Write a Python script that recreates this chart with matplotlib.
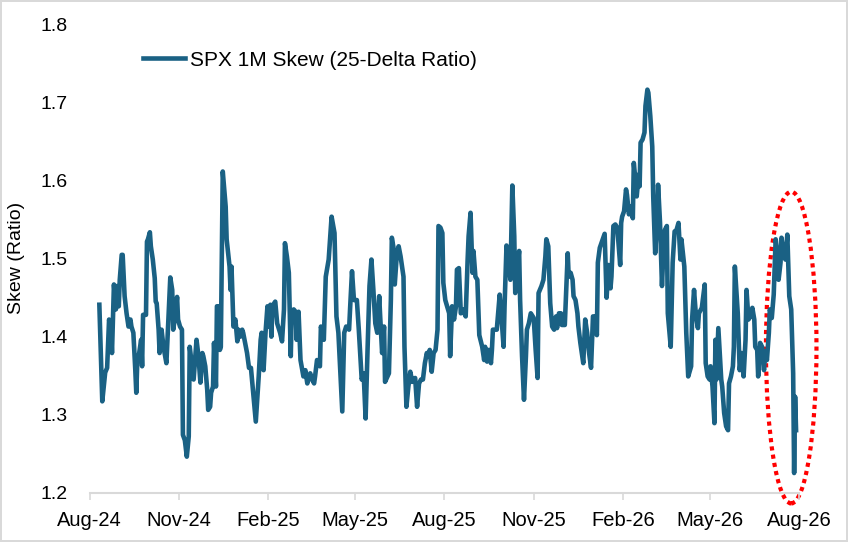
import pandas as pd
import matplotlib
matplotlib.use("Agg")
import matplotlib.pyplot as plt
import matplotlib.dates as mdates
from matplotlib.patches import Ellipse

# data: days after 1 Aug 2024 and the skew ratio
start_date = "2024-08-01"
days_from_start = [
    10, 13, 16, 18, 20, 22, 23, 25, 27, 28, 30, 31, 33, 34, 35, 36, 38, 40, 42, 43,
    45, 47, 48, 49, 51, 53, 54, 55, 58, 59, 60, 62, 63, 65, 67, 68, 69, 71, 72, 74,
    76, 79, 81, 83, 85, 86, 88, 90, 91, 93, 95, 96, 98, 100, 102, 103, 105, 107, 109, 110,
    112, 114, 116, 117, 119, 121, 122, 124, 125, 127, 128, 130, 131, 133, 134, 135, 137, 140, 141, 144,
    145, 146, 148, 150, 152, 153, 155, 157, 158, 162, 164, 166, 169, 171, 174, 176, 177, 179, 181, 183,
    184, 186, 187, 188, 191, 193, 196, 198, 200, 201, 203, 205, 207, 208, 210, 212, 213, 215, 217, 220,
    222, 224, 227, 229, 231, 232, 234, 237, 238, 241, 243, 246, 249, 252, 254, 256, 260, 262, 264, 267,
    268, 270, 272, 275, 277, 280, 282, 284, 286, 288, 290, 292, 294, 296, 298, 299, 301, 303, 304, 308,
    310, 311, 313, 314, 316, 318, 320, 323, 324, 326, 328, 330, 332, 335, 337, 339, 341, 343, 345, 347,
    348, 350, 352, 354, 356, 358, 359, 361, 363, 364, 366, 370, 371, 373, 375, 377, 378, 380, 382, 384,
    387, 389, 390, 392, 394, 395, 397, 399, 401, 404, 406, 407, 409, 411, 413, 414, 415, 419, 422, 424,
    426, 427, 429, 431, 433, 435, 437, 438, 440, 442, 443, 445, 447, 449, 450, 452, 454, 456, 457, 459,
    461, 462, 465, 467, 469, 470, 472, 474, 476, 478, 480, 481, 483, 485, 486, 489, 492, 493, 495, 497,
    498, 500, 502, 503, 505, 508, 510, 512, 514, 516, 518, 520, 522, 523, 525, 528, 530, 532, 534, 536,
    537, 539, 541, 543, 546, 547, 548, 550, 552, 553, 555, 557, 559, 560, 561, 563, 565, 566, 567, 569,
    571, 572, 574, 575, 577, 579, 580, 582, 584, 585, 587, 589, 590, 592, 594, 595, 598, 600, 602, 604,
    606, 608, 609, 612, 614, 616, 619, 620, 622, 624, 626, 627, 630, 633, 634, 636, 638, 639, 641, 643,
    644, 645, 647, 650, 651, 653, 655, 657, 658, 660, 662, 663, 664, 667, 669, 671, 673, 675, 676, 678,
    680, 682, 684, 685, 687, 688, 690, 692, 694, 695, 697, 699, 700, 702, 704, 706, 707, 709, 711, 712,
    714, 716, 718, 720, 722, 724, 725, 726, 727,
]
skew = [
    1.441, 1.317, 1.354, 1.360, 1.422, 1.409, 1.379, 1.467, 1.435, 1.465, 1.439, 1.473, 1.505, 1.505, 1.477, 1.452, 1.430, 1.413, 1.422, 1.413,
    1.405, 1.357, 1.328, 1.366, 1.379, 1.396, 1.362, 1.428, 1.428, 1.522, 1.525, 1.534, 1.516, 1.499, 1.475, 1.445, 1.443, 1.409, 1.379, 1.409,
    1.387, 1.366, 1.422, 1.476, 1.460, 1.409, 1.426, 1.451, 1.422, 1.413, 1.409, 1.274, 1.267, 1.246, 1.272, 1.387, 1.366, 1.345, 1.379, 1.396,
    1.375, 1.341, 1.379, 1.375, 1.362, 1.332, 1.306, 1.310, 1.328, 1.336, 1.392, 1.336, 1.439, 1.439, 1.383, 1.387, 1.612, 1.567, 1.525, 1.490,
    1.460, 1.490, 1.413, 1.422, 1.394, 1.409, 1.400, 1.409, 1.405, 1.379, 1.360, 1.360, 1.319, 1.291, 1.349, 1.396, 1.405, 1.357, 1.405, 1.439,
    1.413, 1.441, 1.400, 1.439, 1.445, 1.417, 1.405, 1.394, 1.435, 1.520, 1.503, 1.482, 1.375, 1.432, 1.435, 1.432, 1.396, 1.432, 1.370, 1.349,
    1.357, 1.340, 1.353, 1.345, 1.340, 1.349, 1.370, 1.362, 1.413, 1.396, 1.477, 1.499, 1.554, 1.533, 1.426, 1.405, 1.304, 1.405, 1.413, 1.409,
    1.435, 1.484, 1.447, 1.447, 1.409, 1.345, 1.353, 1.295, 1.383, 1.465, 1.499, 1.460, 1.417, 1.405, 1.452, 1.426, 1.379, 1.413, 1.342, 1.353,
    1.447, 1.527, 1.512, 1.467, 1.503, 1.516, 1.503, 1.477, 1.387, 1.310, 1.336, 1.355, 1.342, 1.347, 1.310, 1.340, 1.345, 1.345, 1.366, 1.379,
    1.375, 1.383, 1.355, 1.379, 1.383, 1.409, 1.542, 1.540, 1.533, 1.469, 1.447, 1.430, 1.375, 1.439, 1.422, 1.439, 1.486, 1.488, 1.430, 1.435,
    1.426, 1.499, 1.529, 1.559, 1.482, 1.510, 1.477, 1.473, 1.402, 1.387, 1.370, 1.387, 1.368, 1.383, 1.366, 1.383, 1.409, 1.409, 1.454, 1.422,
    1.387, 1.439, 1.517, 1.501, 1.473, 1.594, 1.529, 1.456, 1.486, 1.510, 1.447, 1.375, 1.319, 1.375, 1.409, 1.417, 1.430, 1.426, 1.424, 1.383,
    1.347, 1.456, 1.465, 1.473, 1.503, 1.525, 1.516, 1.443, 1.413, 1.409, 1.426, 1.411, 1.430, 1.430, 1.415, 1.415, 1.507, 1.477, 1.482, 1.473,
    1.452, 1.447, 1.430, 1.413, 1.392, 1.366, 1.422, 1.405, 1.379, 1.360, 1.426, 1.426, 1.402, 1.495, 1.514, 1.525, 1.532, 1.450, 1.492, 1.462,
    1.477, 1.542, 1.544, 1.540, 1.492, 1.546, 1.554, 1.561, 1.589, 1.582, 1.557, 1.567, 1.552, 1.623, 1.610, 1.580, 1.608, 1.593, 1.649, 1.653,
    1.662, 1.696, 1.717, 1.713, 1.683, 1.644, 1.580, 1.507, 1.550, 1.595, 1.546, 1.465, 1.495, 1.537, 1.542, 1.430, 1.387, 1.495, 1.535, 1.537,
    1.546, 1.499, 1.525, 1.490, 1.405, 1.349, 1.362, 1.422, 1.460, 1.426, 1.411, 1.430, 1.437, 1.467, 1.366, 1.349, 1.345, 1.362, 1.336, 1.289,
    1.396, 1.345, 1.411, 1.345, 1.336, 1.302, 1.285, 1.280, 1.340, 1.349, 1.362, 1.387, 1.490, 1.430, 1.357, 1.379, 1.349, 1.396, 1.460, 1.422,
    1.426, 1.437, 1.422, 1.387, 1.383, 1.349, 1.392, 1.387, 1.357, 1.381, 1.370, 1.405, 1.435, 1.424, 1.454, 1.525, 1.516, 1.473, 1.495, 1.527,
    1.507, 1.499, 1.531, 1.452, 1.435, 1.353, 1.225, 1.323, 1.280,
]

tick_dates = ["2024-08-01", "2024-11-01", "2025-02-01", "2025-05-01", "2025-08-01",
              "2025-11-01", "2026-02-01", "2026-05-01", "2026-08-01"]
tick_labels = ["Aug-24", "Nov-24", "Feb-25", "May-25", "Aug-25",
               "Nov-25", "Feb-26", "May-26", "Aug-26"]
y_ticks = [1.2, 1.3, 1.4, 1.5, 1.6, 1.7, 1.8]
series_name = "SPX 1M Skew (25-Delta Ratio)"

dates = pd.Timestamp(start_date) + pd.to_timedelta(days_from_start, unit="D")

plt.rcParams['font.family'] = ['Liberation Sans', 'DejaVu Sans']

fig = plt.figure(figsize=(8.48, 5.42), dpi=100, edgecolor='#d9d9d9', linewidth=1.5)
ax = fig.add_axes([0.1057, 0.0913, 0.8365, 0.8626])

ax.plot(dates, skew, color='#1a6184', lw=3.3, solid_joinstyle='round', label=series_name)

ax.set_xlim(pd.Timestamp(tick_dates[0]), pd.Timestamp(tick_dates[-1]))
ax.set_ylim(y_ticks[0], y_ticks[-1])
ax.set_xticks(pd.to_datetime(tick_dates))
ax.set_xticklabels(tick_labels)
ax.set_yticks(y_ticks)
ax.set_yticklabels([f"{t:.1f}" for t in y_ticks])

for s in ['top', 'right', 'left']:
    ax.spines[s].set_visible(False)
ax.spines['bottom'].set_color('#d9d9d9')
ax.spines['bottom'].set_linewidth(1.5)
ax.tick_params(axis='y', length=0, pad=16, labelsize=14)
ax.tick_params(axis='x', length=5, width=1.2, color='#d9d9d9', pad=8, labelsize=14.5)

fig.text(17 / 848, 1 - 258 / 542, 'Skew (Ratio)', rotation=90,
         ha='center', va='center', fontsize=14)

ax.legend(loc='center left', bbox_to_anchor=(0.0753, 0.925), frameon=False,
          fontsize=15, handlelength=2.0, handletextpad=0.25,
          borderpad=0, borderaxespad=0)

# red dotted ring around the latest drop
ring = Ellipse((mdates.date2num(pd.Timestamp("2026-07-24")), 1.386), width=52, height=0.40,
               fill=False, edgecolor='#ff0000', lw=3, linestyle=(0, (1, 1)), clip_on=False)
ax.add_patch(ring)

fig.savefig('out.png', dpi=100)
